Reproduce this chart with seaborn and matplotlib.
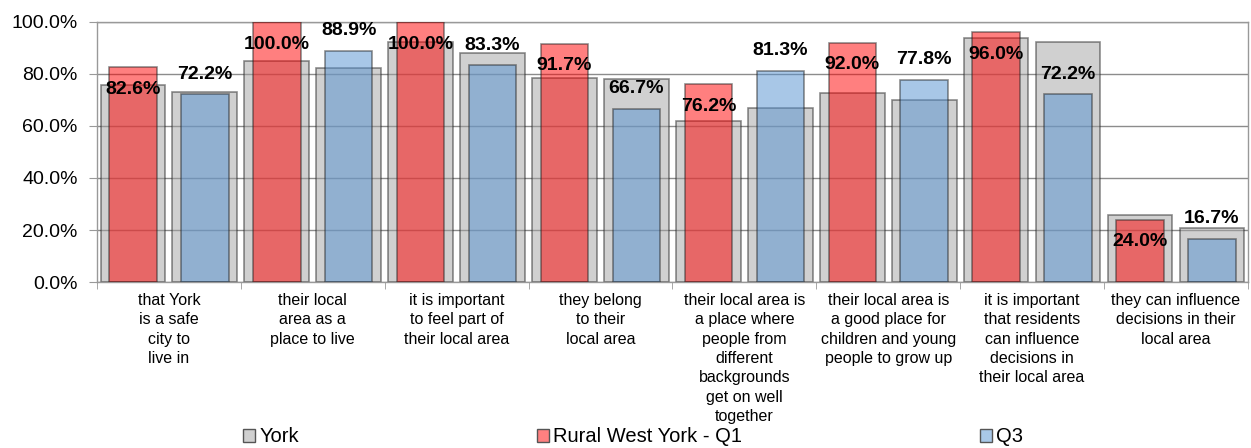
import pandas as pd
import seaborn as sns
import matplotlib.pyplot as plt
from matplotlib.patches import Patch
from matplotlib.ticker import PercentFormatter

# categories and values
categories = [
    "that York\nis a safe\ncity to\nlive in",
    "their local\narea as a\nplace to live",
    "it is important\nto feel part of\ntheir local area",
    "they belong\nto their\nlocal area",
    "their local area is\na place where\npeople from\ndifferent\nbackgrounds\nget on well\ntogether",
    "their local area is\na good place for\nchildren and young\npeople to grow up",
    "it is important\nthat residents\ncan influence\ndecisions in\ntheir local area",
    "they can influence\ndecisions in their\nlocal area",
]
york_q1 = [75.9, 84.9, 92.2, 78.6, 61.8, 72.6, 93.7, 25.8]
york_q3 = [73.0, 82.2, 87.9, 78.0, 66.8, 69.9, 92.4, 20.9]
rural_q1 = [82.6, 100.0, 100.0, 91.7, 76.2, 92.0, 96.0, 24.0]
rural_q3 = [72.2, 88.9, 83.3, 66.7, 81.3, 77.8, 72.2, 16.7]

df = pd.DataFrame({
    "category": categories * 2,
    "quarter": ["Q1"] * 8 + ["Q3"] * 8,
    "york": york_q1 + york_q3,
    "rural": rural_q1 + rural_q3,
})

plt.rcParams['font.family'] = ['Liberation Sans', 'DejaVu Sans']
fig = plt.figure(figsize=(12.51, 4.48), dpi=100)
ax = fig.add_axes([0.0775, 0.3705, 0.92, 0.5805])

grey = "#a2a2a2"
red = "#ff0000"
blue = "#5391d1"
edge = "#202020"

# York bars behind (wide)
sns.barplot(data=df, x="category", y="york", hue="quarter", order=categories,
            palette={"Q1": grey, "Q3": grey}, width=1.0, gap=0.1, saturation=1,
            edgecolor=edge, linewidth=1.2, alpha=0.5, legend=False, ax=ax, zorder=2)
# Rural West York bars in front (narrow)
sns.barplot(data=df, x="category", y="rural", hue="quarter", order=categories,
            palette={"Q1": red, "Q3": blue}, width=1.0, gap=0.34, saturation=1,
            edgecolor=edge, linewidth=1.2, alpha=0.5, legend=False, ax=ax, zorder=3)

# data labels: Q1 inside the top, Q3 above the top
q1_bars = ax.containers[2]
q3_bars = ax.containers[3]
for bars, vals, off in [(q1_bars, rural_q1, -16), (q3_bars, rural_q3, 14.5)]:
    for p, v in zip(bars.patches, vals):
        ax.annotate(f"{v:.1f}%", (p.get_x() + p.get_width() / 2, v),
                    xytext=(0, off), textcoords="offset points",
                    ha="center", va="center", fontsize=14, fontweight="bold",
                    color="black", zorder=5)

ax.set_ylim(0, 100)
ax.set_xlim(-0.5, 7.5)
ax.set_yticks([0, 20, 40, 60, 80, 100])
ax.yaxis.set_major_formatter(PercentFormatter(decimals=1))
ax.grid(axis="y", color="#8c8c8c", linewidth=1)
ax.set_axisbelow(True)
ax.set_xlabel("")
ax.set_ylabel("")
for s in ax.spines.values():
    s.set_color("#999999")
    s.set_linewidth(1)
ax.tick_params(axis="y", labelsize=14, length=6, color="#999999", pad=8)
ax.tick_params(axis="x", which="major", length=0, labelsize=11.5, pad=8)
ax.set_xticks([i - 0.5 for i in range(9)], minor=True)
ax.tick_params(axis="x", which="minor", length=5, color="#999999")
for lab in ax.get_xticklabels():
    lab.set_linespacing(1.36)
    lab.set_va("top")

handles = [
    Patch(facecolor="#d0d0d0", edgecolor="#555555", label="York"),
    Patch(facecolor="#ff8080", edgecolor="#555555", label="Rural West York - Q1"),
    Patch(facecolor="#a9c8e8", edgecolor="#555555", label="Q3"),
]
fig.legend(handles=handles, loc="center", bbox_to_anchor=(0.506, 0.025), ncol=3,
           frameon=False, fontsize=14.5, handlelength=0.6, handleheight=0.6,
           handletextpad=0.2, columnspacing=11.8)

plt.savefig("out.png", dpi=100)
